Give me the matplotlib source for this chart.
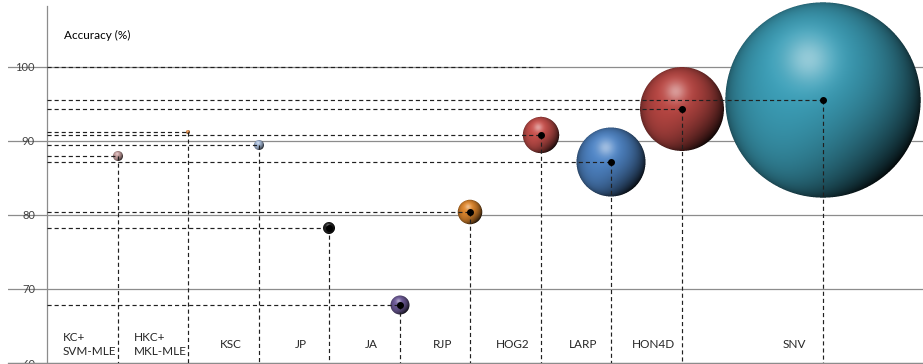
import numpy as np
import matplotlib
matplotlib.use("Agg")
import matplotlib.pyplot as plt
from matplotlib.offsetbox import OffsetImage, AnnotationBbox
from matplotlib.colors import to_rgb

plt.rcParams['font.family'] = ['Lato', 'DejaVu Sans']

# methods, their slot on the x axis, accuracy (%) and bubble size
methods = ['KC+\nSVM-MLE', 'HKC+\nMKL-MLE', 'KSC', 'JP', 'JA', 'RJP', 'HOG2', 'LARP', 'HON4D', 'SNV']
xpos = [1, 2, 3, 4, 5, 6, 7, 8, 9, 11]
accuracy = [88.0, 91.2, 89.5, 78.2, 67.9, 80.4, 90.8, 87.1, 94.3, 95.5]
bubble = [25, 4, 25, 36, 90, 150, 330, 1190, 1760, 9540]
colors = ['#c9a2a2', '#e8914a', '#a9bddb', '#222222', '#6f5c9a', '#e0882e',
          '#c8504c', '#4f85c6', '#b94743', '#3c9fb8']
yticks = [60, 70, 80, 90, 100]


def sphere(r, color, ss=4):
    """RGBA image of a shaded ball with radius r pixels."""
    half = int(np.ceil(r)) + 1
    n = 2 * half
    t = (np.arange(n * ss) + 0.5) / ss - half
    X, Y = np.meshgrid(t, t)
    x, y = X / r, Y / r              # y grows downwards in the image
    d2 = x ** 2 + y ** 2
    inside = (d2 <= 1).astype(float)
    z = np.sqrt(np.clip(1 - d2, 0, 1))
    nx, ny, nz = x, -y, z

    L = np.array([-0.22, 0.42, 0.88])
    L /= np.linalg.norm(L)
    ndl = nx * L[0] + ny * L[1] + nz * L[2]
    shade = 0.06 + 0.94 * np.clip((ndl + 0.35) / 1.3, 0, 1) ** 1.2

    # reflected light around the lower / left rim
    R = np.array([-0.45, -0.75, 0.25])
    R /= np.linalg.norm(R)
    rim = np.clip(nx * R[0] + ny * R[1] + nz * R[2], 0, 1) ** 3
    shade = shade + 0.3 * rim

    base = np.array(to_rgb(color))
    rgb = np.clip(base[None, None, :] * shade[..., None], 0, 1)

    # soft specular spot
    spot = np.exp(-((x + 0.15) ** 2 + (y + 0.42) ** 2) / 0.06)
    rgb = rgb + (1 - rgb) * (0.45 * spot)[..., None]

    rgba = np.dstack([rgb * inside[..., None], inside])
    rgba = rgba.reshape(n, ss, n, ss, 4).mean(axis=(1, 3))
    a = rgba[..., 3:4]
    rgba[..., :3] = np.where(a > 0, rgba[..., :3] / np.maximum(a, 1e-6), 0)
    return np.clip(rgba, 0, 1)


fig = plt.figure(figsize=(9.23, 3.64), dpi=100)
ax = fig.add_axes([8 / 923, 1 / 364, 915 / 923, 357 / 364])

ax.set_xlim(-0.56, 12.42)
ax.set_ylim(60, 108.24)

ax.spines['top'].set_visible(False)
ax.spines['right'].set_visible(False)
ax.spines['left'].set_position(('data', 0))
for s in ('left', 'bottom'):
    ax.spines[s].set_color('#8c8c8c')
    ax.spines[s].set_linewidth(0.9)

ax.set_xticks([])
ax.set_yticks(yticks)
ax.tick_params(axis='y', length=0, pad=9, labelsize=8, labelcolor='#404040')
ax.set_axisbelow(True)
ax.yaxis.grid(True, color='#8c8c8c', linewidth=0.9)

dash = dict(color='#202020', linewidth=0.85, linestyle=(0, (3.5, 2.5)), zorder=3)

# bubbles, smaller ones first so the big ones sit on top
for x, y, s, c in zip(xpos, accuracy, bubble, colors):
    img = OffsetImage(sphere(np.sqrt(s), c), zoom=1, dpi_cor=False)
    ab = AnnotationBbox(img, (x, y), frameon=False, pad=0, zorder=2)
    ax.add_artist(ab)

# drop lines to both axes
for x, y in zip(xpos, accuracy):
    ax.plot([0, x], [y, y], **dash)
    ax.plot([x, x], [y, 60], **dash)
ax.plot([0, xpos[methods.index('HOG2')]], [100, 100], **dash)

# centre dots on the larger bubbles
big = [i for i, s in enumerate(bubble) if s > 30]
ax.plot([xpos[i] for i in big], [accuracy[i] for i in big], 'o',
        color='black', markersize=4, zorder=4)

for x, name in zip(xpos, methods):
    ax.text(x - 0.4, 62.5, name, ha='center', va='center', multialignment='left',
            fontsize=8.5, color='#262626', linespacing=1.35)

fig.text(64 / 923, 1 - 35 / 364, 'Accuracy (%)', ha='left', va='center',
         fontsize=8.5, color='black')

fig.savefig('out.png', dpi=100, facecolor='white')
